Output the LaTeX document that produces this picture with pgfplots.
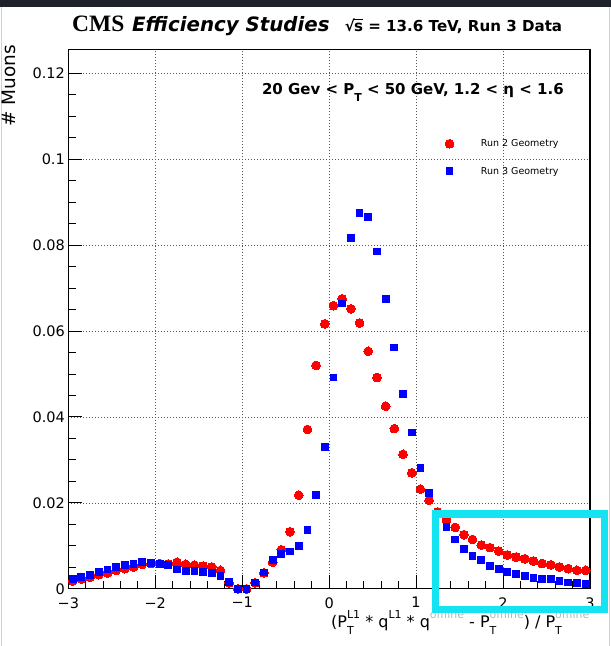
\documentclass[border=0pt]{standalone}
\usepackage{pgfplots}
\pgfplotsset{compat=1.18}
\usepackage{fontspec}
\setmainfont{DejaVu Sans}
\newfontfamily\cmsfont{Liberation Serif}

\definecolor{rootred}{RGB}{255,0,0}
\definecolor{rootblue}{RGB}{0,0,255}
\definecolor{hilite}{RGB}{20,228,242}
\definecolor{barcol}{RGB}{30,34,42}

\newcommand{\fs}[1]{\fontsize{#1}{#1}\selectfont}
\newcommand{\up}[1]{\raisebox{0.55em}{\fs{11}#1}}
\newcommand{\dn}[1]{\raisebox{-0.42em}{\fs{11}#1}}
\newcommand{\hid}[1]{\color{black!28}#1}

\begin{document}
\begin{tikzpicture}[x=1pt,y=1pt]
% canvas
\fill[white] (0,0) rectangle (611,646);
\fill[barcol] (0,639) rectangle (611,646);
\draw[black!18, line width=1pt] (1.5,0) -- (1.5,639);
\draw[black!18, line width=1pt] (609.5,0) -- (609.5,639);

\begin{axis}[
  at={(68.4pt,56.7pt)}, anchor=south west,
  scale only axis, width=522pt, height=540pt,
  xmin=-3, xmax=3, ymin=0, ymax=0.1256,
  xtick={-3,-2,-1,0,1,2,3},
  xticklabels={−3,−2,−1,0,1,2,3},
  ytick={0,0.02,0.04,0.06,0.08,0.1,0.12},
  yticklabels={0,0.02,0.04,0.06,0.08,0.1,0.12},
  minor x tick num=4, minor y tick num=3,
  tick align=inside, tick pos=left,
  major tick length=14pt, minor tick length=7.5pt,
  tick style={black, line width=1pt},
  axis line style={line width=1.3pt},
  grid=major,
  major grid style={dash pattern=on 0.9pt off 2.1pt, line width=0.8pt, black!65},
  ticklabel style={font=\fs{14.5}},
  xticklabel style={yshift=-5pt},
  clip=false,
  legend style={draw=none, fill=none, at={(axis cs:1.332,0.1051)}, anchor=north west,
    font=\fs{9.5}, row sep=15pt, inner sep=0pt,
    /tikz/every odd column/.append style={column sep=25pt}},
  legend cell align=left,
  legend image code/.code={\draw[#1] plot coordinates {(0pt,0pt)};},
]

% Run 2 geometry
\addplot[only marks, mark=*, mark size=4.4pt, color=rootred,
  mark options={fill=rootred, draw=rootred, line width=0pt}] coordinates {
(-2.95,0.0018) (-2.85,0.0023) (-2.75,0.0027) (-2.65,0.0033) (-2.55,0.0037)
(-2.45,0.0043) (-2.35,0.0047) (-2.25,0.0051) (-2.15,0.0057) (-2.05,0.0059)
(-1.95,0.0059) (-1.85,0.0058) (-1.75,0.0062) (-1.65,0.0057) (-1.55,0.0055)
(-1.45,0.0053) (-1.35,0.0051) (-1.25,0.0043) (-1.15,0.0014) (-1.05,0.0)
(-0.95,0.0) (-0.85,0.0014) (-0.75,0.0037) (-0.65,0.0062) (-0.55,0.0091)
(-0.45,0.0133) (-0.35,0.0218) (-0.25,0.0371) (-0.15,0.0520) (-0.05,0.0617)
(0.05,0.0659) (0.15,0.0675) (0.25,0.0652) (0.35,0.0619) (0.45,0.0553)
(0.55,0.0492) (0.65,0.0425) (0.75,0.0373) (0.85,0.0313) (0.95,0.0270)
(1.05,0.0232) (1.15,0.0206) (1.25,0.0179) (1.35,0.0160) (1.45,0.0143)
(1.55,0.0126) (1.65,0.0115) (1.75,0.0102) (1.85,0.0096) (1.95,0.0088)
(2.05,0.0079) (2.15,0.0074) (2.25,0.0070) (2.35,0.0065) (2.45,0.0059)
(2.55,0.0056) (2.65,0.0051) (2.75,0.0047) (2.85,0.0043) (2.95,0.0043)
};
\addlegendentry{Run 2 Geometry}

% Run 3 geometry
\addplot[only marks, mark=square*, mark size=3.4pt, color=rootblue,
  mark options={fill=rootblue, draw=rootblue, line width=0pt}] coordinates {
(-2.95,0.0022) (-2.85,0.0027) (-2.75,0.0033) (-2.65,0.0039) (-2.55,0.0045)
(-2.45,0.0050) (-2.35,0.0055) (-2.25,0.0058) (-2.15,0.0062) (-2.05,0.0060)
(-1.95,0.0057) (-1.85,0.0055) (-1.75,0.0045) (-1.65,0.0042) (-1.55,0.0042)
(-1.45,0.0039) (-1.35,0.0036) (-1.25,0.0029) (-1.15,0.0016) (-1.05,0.0)
(-0.95,0.0) (-0.85,0.0015) (-0.75,0.0038) (-0.65,0.0068) (-0.55,0.0081)
(-0.45,0.0087) (-0.35,0.0100) (-0.25,0.0137) (-0.15,0.0218) (-0.05,0.0330)
(0.05,0.0492) (0.15,0.0664) (0.25,0.0816) (0.35,0.0874) (0.45,0.0866)
(0.55,0.0785) (0.65,0.0675) (0.75,0.0562) (0.85,0.0454) (0.95,0.0364)
(1.05,0.0281) (1.15,0.0223) (1.25,0.0175) (1.35,0.0144) (1.45,0.0115)
(1.55,0.0093) (1.65,0.0077) (1.75,0.0068) (1.85,0.0054) (1.95,0.0047)
(2.05,0.0040) (2.15,0.0034) (2.25,0.0029) (2.35,0.0026) (2.45,0.0023)
(2.55,0.0022) (2.65,0.0019) (2.75,0.0015) (2.85,0.0014) (2.95,0.0011)
};
\addlegendentry{Run 3 Geometry}
\end{axis}

% title line
\node[anchor=base west, inner sep=0pt] at (72,614) {\cmsfont\bfseries\fs{23.5}CMS};
\node[anchor=base west, inner sep=0pt] at (132,614) {\bfseries\itshape\fs{19.8}Efficiency Studies};
\node[anchor=base west, inner sep=0pt] at (345,614)
  {\bfseries\fs{15.1}√\kern-0.06em\rlap{\rule[0.78em]{0.62em}{0.08em}}s = 13.6 TeV, Run 3 Data};

% selection label
\node[anchor=base west, inner sep=0pt] at (262,551)
  {\bfseries\fs{15}20 Gev < P\dn{\bfseries T} < 50 GeV, 1.2 < η < 1.6};

% axis titles
\node[anchor=base east, inner sep=0pt] at (590,18)
  {\fs{16}(P\rlap{\dn{T}}\up{L1} * q\up{L1} * q\up{\hid{offline}} - P\rlap{\dn{T}}\up{\hid{offline}}) / P\rlap{\dn{T}}\up{\hid{offline}}};
\node[anchor=base east, rotate=90, inner sep=0pt] at (15.5,601) {\fs{18.5}\# Muons};

% highlight frame
\draw[hilite, line width=7.5pt] (436,131.5) rectangle (605,36);
\end{tikzpicture}
\end{document}
